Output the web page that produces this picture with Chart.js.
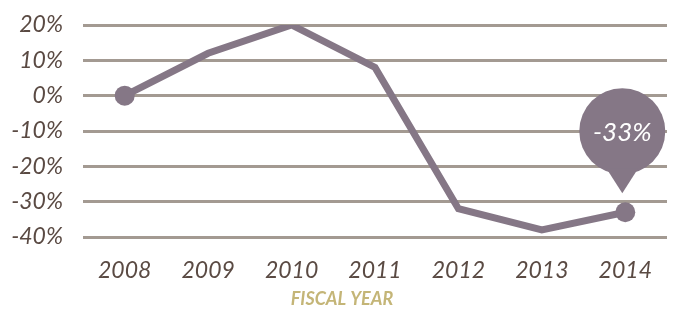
<!DOCTYPE html>
<html>
<head>
<meta charset="utf-8">
<script src="https://cdn.jsdelivr.net/npm/chart.js@4/dist/chart.umd.min.js"></script>
<style>
  html, body { margin: 0; padding: 0; background: #fff; }
  #wrap { width: 677px; height: 310px; }
</style>
</head>
<body>
<div id="wrap"><canvas id="fiscalChart" width="677" height="310"></canvas></div>
<script>
const years = ['2008', '2009', '2010', '2011', '2012', '2013', '2014'];
const changePct = [0, 12, 20, 8, -32, -38, -33];
const yTicks = [20, 10, 0, -10, -20, -30, -40];
const calloutLabel = '-33%';

const lineColor = '#857786';
const tickColor = '#5a4a43';
const gridColor = '#a39a92';
const titleColor = '#c4b577';

// draw the speech bubble over the last point, plus the axis title
const calloutPlugin = {
  id: 'callout',
  afterDatasetsDraw(chart) {
    const ctx = chart.ctx;
    const pt = chart.getDatasetMeta(0).data[changePct.length - 1];
    const cx = pt.x - 3;
    const cy = pt.y - 81;
    const r = 43;
    ctx.save();
    ctx.fillStyle = lineColor;
    ctx.beginPath();
    ctx.arc(cx, cy, r, 0, Math.PI * 2);
    ctx.fill();
    ctx.beginPath();
    ctx.moveTo(cx - 16, cy + r - 6);
    ctx.lineTo(cx + 16, cy + r - 6);
    ctx.lineTo(cx, pt.y - 19);
    ctx.closePath();
    ctx.fill();
    ctx.fillStyle = '#ffffff';
    ctx.font = 'italic 26px Lato';
    ctx.textAlign = 'center';
    ctx.textBaseline = 'middle';
    ctx.fillText(calloutLabel, cx, cy + 1);

    ctx.fillStyle = titleColor;
    ctx.font = 'italic bold 18px Lato';
    ctx.fillText('FISCAL YEAR', 342, 299);
    ctx.restore();
  }
};

const fiscalChart = new Chart(document.getElementById('fiscalChart'), {
  type: 'line',
  data: {
    labels: years,
    datasets: [
      {
        data: changePct,
        borderColor: lineColor,
        backgroundColor: lineColor,
        borderWidth: 7,
        tension: 0,
        pointRadius: changePct.map((v, i) => (i === 0 || i === changePct.length - 1 ? 10 : 0)),
        pointHoverRadius: 0,
        pointBorderWidth: 0,
      },
    ],
  },
  options: {
    responsive: false,
    animation: false,
    layout: { padding: { top: 25, right: 10, left: 0, bottom: 0 } },
    plugins: { legend: { display: false }, tooltip: { enabled: false } },
    scales: {
      x: {
        offset: true,
        grid: { display: false },
        border: { display: false },
        ticks: { color: tickColor, font: { family: 'Lato', style: 'italic', size: 23 }, padding: 12 },
        afterFit(scale) { scale.height = 73; },
      },
      y: {
        min: -40,
        max: 20,
        afterBuildTicks(scale) { scale.ticks = yTicks.map((v) => ({ value: v })); },
        grid: { color: gridColor, lineWidth: 3, drawTicks: false },
        border: { display: false },
        ticks: {
          color: tickColor,
          font: { family: 'Lato', style: 'italic', size: 23 },
          padding: 20,
          callback: (v) => v + '%',
        },
        afterFit(scale) {
          scale.width = 83;
          scale.paddingTop = 0;
          scale.paddingBottom = 0;
        },
      },
    },
  },
  plugins: [calloutPlugin],
});
</script>
</body>
</html>
